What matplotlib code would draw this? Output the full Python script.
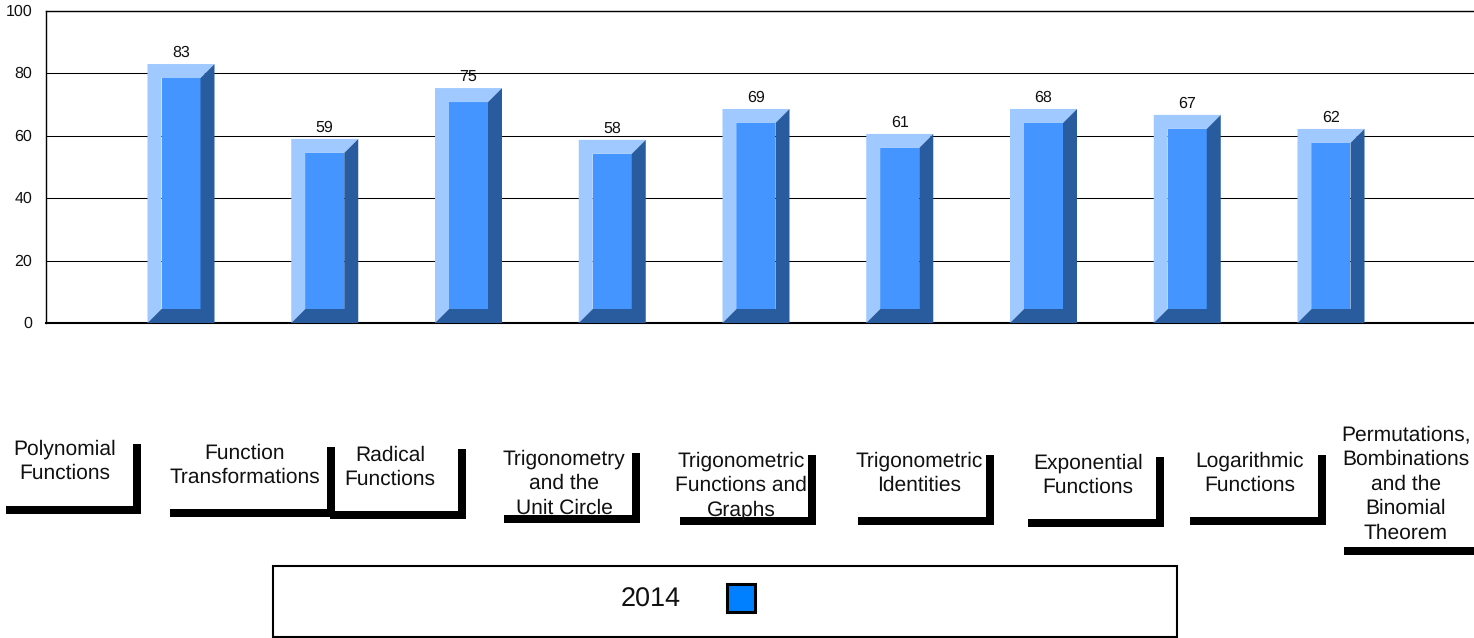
import matplotlib
matplotlib.use("Agg")
import matplotlib.pyplot as plt
from matplotlib.patches import Polygon, Rectangle
from matplotlib.transforms import ScaledTranslation

plt.rcParams["font.family"] = ["Liberation Sans", "DejaVu Sans"]
plt.rcParams["text.hinting"] = "no_hinting"
plt.rcParams["text.hinting_factor"] = 1

categories = [
    "Polynomial\nFunctions",
    "Function\nTransformations",
    "Radical\nFunctions",
    "Trigonometry\nand the\nUnit Circle",
    "Trigonometric\nFunctions and\nGraphs",
    "Trigonometric\nIdentities",
    "Exponential\nFunctions",
    "Logarithmic\nFunctions",
    "Permutations,\nBombinations\nand the\nBinomial\nTheorem",
]
bar_values = [83, 59, 75.3, 58.7, 68.6, 60.6, 68.6, 66.7, 62.2]
value_labels = ["83", "59", "75", "58", "69", "61", "68", "67", "62"]
yticks = [0, 20, 40, 60, 80, 100]
series_name = "2014"

# label boxes in pixels: text x, text top line y, bracket left, right, bottom y, vertical top y
label_layout = [
    (65, 449, 6, 141, 510, 444),
    (245, 453, 170, 335, 513, 447),
    (390, 455, 330, 466, 515, 449),
    (564, 459, 504, 640, 519, 453),
    (741, 461, 680, 816, 521, 455),
    (919, 461, 858, 994, 521, 455),
    (1088, 463, 1028, 1164, 523, 457),
    (1250, 461, 1190, 1326, 521, 455),
    (1406, 435, 1344, 1480, 551, 520),
]

LIGHT = "#a0c9ff"
MAIN = "#4495ff"
DARK = "#285c9e"

W, H = 1474, 638
fig = plt.figure(figsize=(W / 100, H / 100), dpi=100)
ax = fig.add_axes([46 / W, 1 - 323 / H, (W - 46) / W, 312 / H])

step = 143.75
ax.set_xlim(-135 / step, (W - 181) / step)
ax.set_ylim(0, 100)
ax.set_yticks(yticks)
ax.set_xticks([])
ax.tick_params(axis="y", length=0, pad=10, labelsize=11.5, labelcolor="#111111")
# tick labels sit a touch higher than centre in the original
nudge = ScaledTranslation(0, 1 / 100, fig.dpi_scale_trans)
for lab in ax.get_yticklabels():
    lab.set_transform(lab.get_transform() + nudge)
ax.grid(axis="y", color="black", linewidth=0.75, zorder=0)
ax.set_axisbelow(True)
for side in ["left", "top", "bottom"]:
    ax.spines[side].set_linewidth(1.0)
ax.spines["bottom"].set_linewidth(1.5)
ax.spines["right"].set_visible(False)

bw = 67 / step
dx = 14 / step
dy = 14 / 3.12


# bevelled bar, the 3d look from the old chart engine
def draw_bar(i, v, label):
    x0, x1 = i - bw / 2, i + bw / 2
    ax.add_patch(Rectangle((x0 + dx, dy), bw - 2 * dx, v - 2 * dy, color=MAIN, lw=0, zorder=3))
    light = [(x0, 0), (x0, v), (x1, v), (x1 - dx, v - dy), (x0 + dx, v - dy), (x0 + dx, dy)]
    dark = [(x1, v), (x1, 0), (x0, 0), (x0 + dx, dy), (x1 - dx, dy), (x1 - dx, v - dy)]
    ax.add_patch(Polygon(light, closed=True, color=LIGHT, lw=0, zorder=3))
    ax.add_patch(Polygon(dark, closed=True, color=DARK, lw=0, zorder=3))
    ax.annotate(label, (i, v), xytext=(0, 3), textcoords="offset points",
                ha="center", va="bottom", fontsize=11.5, color="#111111")


for i, v in enumerate(bar_values):
    draw_bar(i, v, value_labels[i])

# pixel overlay for the category labels and the legend
over = fig.add_axes([0, 0, 1, 1], facecolor="none")
over.set_xlim(0, W)
over.set_ylim(H, 0)
over.axis("off")

for text, (tx, ty, left, right, bottom, top) in zip(categories, label_layout):
    lines = text.split("\n")
    for n, line in enumerate(lines):
        over.text(tx, ty + n * 24.5, line, ha="center", va="center", fontsize=15.4, color="#111111")
    over.add_patch(Rectangle((left, bottom - 4), right - left, 8, color="black", lw=0))
    if right <= W:
        over.add_patch(Rectangle((right - 8, top), 8, bottom + 4 - top, color="black", lw=0))

over.add_patch(Rectangle((273, 566), 904, 71, fill=False, edgecolor="black", lw=1.5))
over.text(651, 600, series_name, ha="center", va="center", fontsize=19.5, color="#111111")
over.add_patch(Rectangle((727, 584), 28, 28, facecolor="#0080ff", edgecolor="black", lw=2.2))

fig.savefig("out.png", dpi=100)
